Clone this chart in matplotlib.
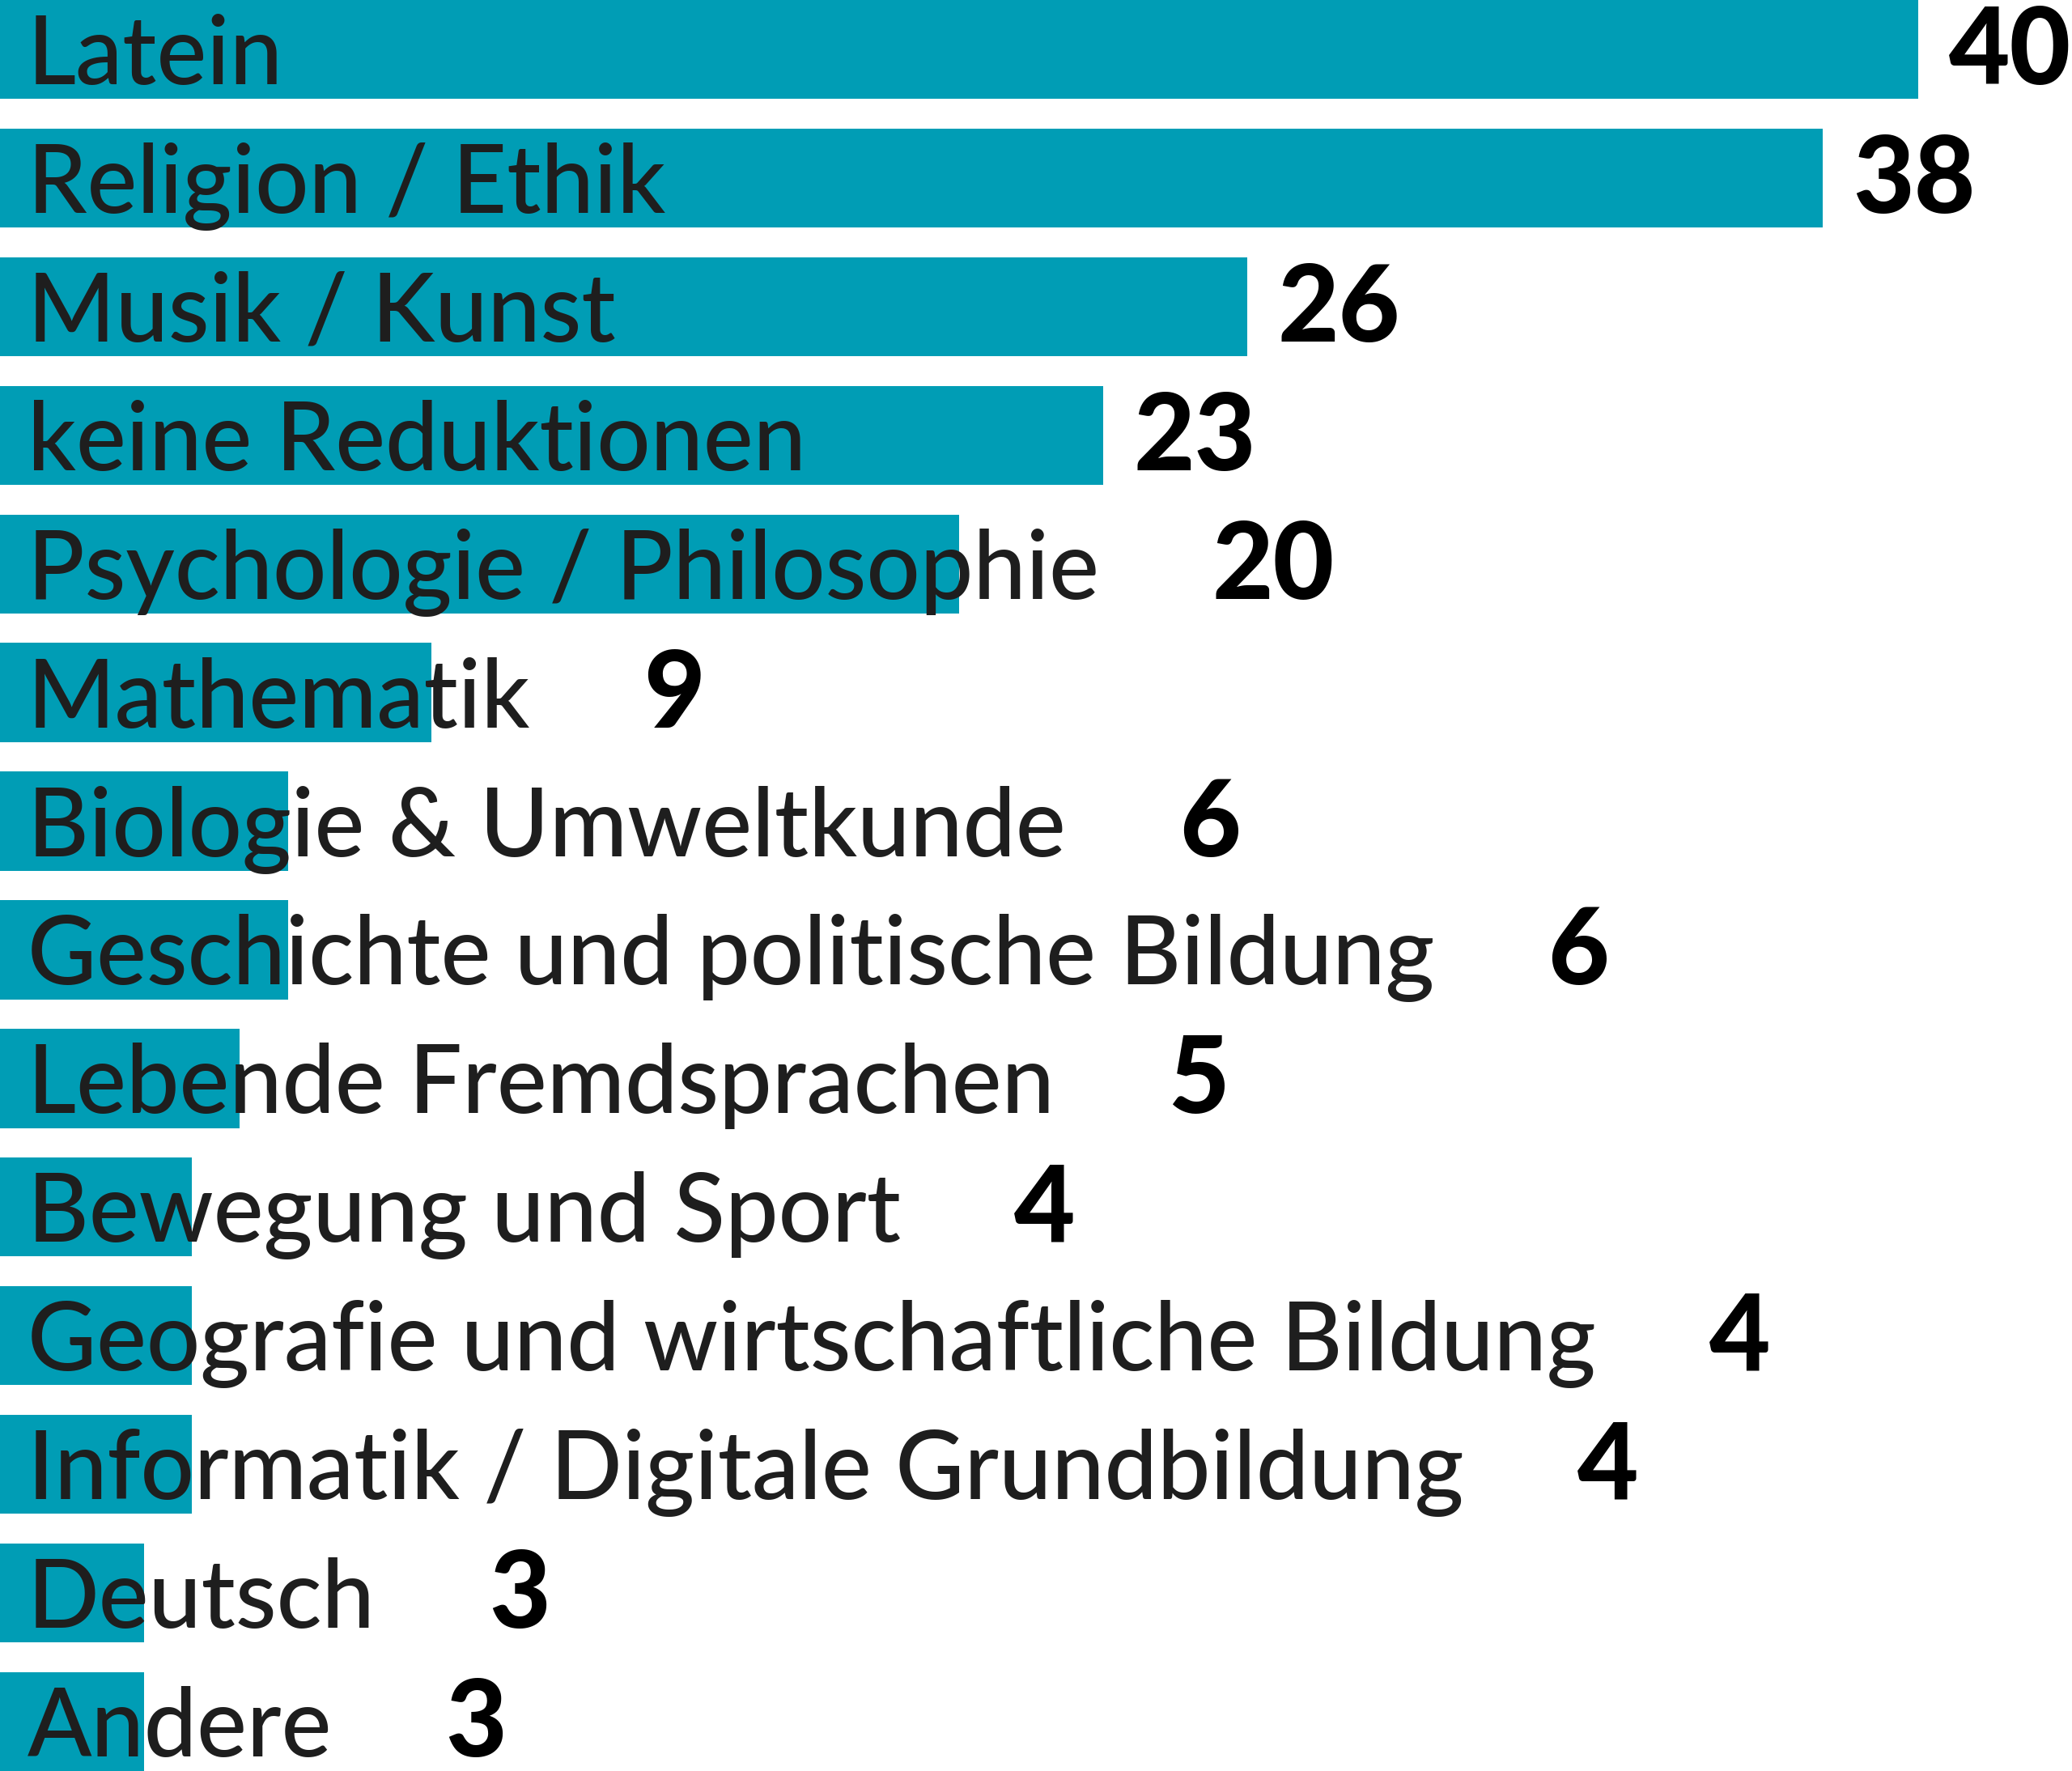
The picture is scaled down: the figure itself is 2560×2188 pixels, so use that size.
import matplotlib
matplotlib.use('Agg')
import matplotlib.pyplot as plt

# Fächer und Anzahl der Nennungen
subjects = ['Latein', 'Religion / Ethik', 'Musik / Kunst', 'keine Reduktionen',
            'Psychologie / Philosophie', 'Mathematik', 'Biologie & Umweltkunde',
            'Geschichte und politische Bildung', 'Lebende Fremdsprachen',
            'Bewegung und Sport', 'Geografie und wirtschaftliche Bildung',
            'Informatik / Digitale Grundbildung', 'Deutsch', 'Andere']
counts = [40, 38, 26, 23, 20, 9, 6, 6, 5, 4, 4, 4, 3, 3]

bar_color = '#009db5'
label_color = '#1e1e1e'
dpi = 100
W, H = 2560, 2188
px_per_unit = 59.25

fig = plt.figure(figsize=(W / dpi, H / dpi), dpi=dpi)
ax = fig.add_axes([0, 0, 1, 1])
ax.axis('off')

bar_h = 0.77
pos = list(range(len(subjects)))
ax.barh(pos, counts, height=bar_h, color=bar_color, linewidth=0)
ax.set_xlim(0, W / px_per_unit)
ax.set_ylim(len(subjects) - 1 + bar_h / 2, -bar_h / 2)

unit_y = H / (len(subjects) - 1 + bar_h)  # px per y unit
lbl_off = 43 / unit_y
num_off = 43 / unit_y

labels = []
for i, s in enumerate(subjects):
    t = ax.text(34 / px_per_unit, i + lbl_off, s, fontsize=84, family='Lato',
                fontweight='medium', color=label_color, va='baseline', ha='left')
    labels.append(t)

fig.canvas.draw()
renderer = fig.canvas.get_renderer()
inv = ax.transData.inverted()

for i, (t, c) in enumerate(zip(labels, counts)):
    ext = t.get_window_extent(renderer)
    text_end = inv.transform((ext.x1, 0))[0]
    x = max(c + 38 / px_per_unit, text_end + 140 / px_per_unit)
    ax.text(x, i + num_off, str(c), fontsize=94, family='Lato', fontweight='black',
            color='black', va='baseline', ha='left')

plt.savefig('out.png', dpi=dpi)
